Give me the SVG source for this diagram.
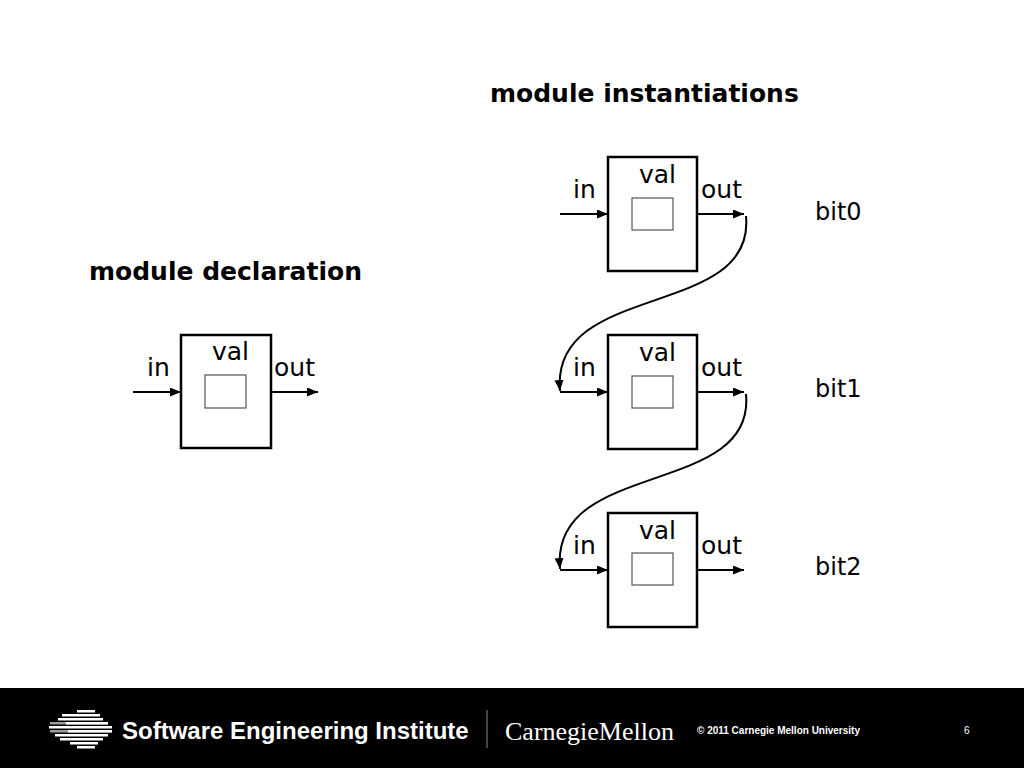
<svg xmlns="http://www.w3.org/2000/svg" width="1024" height="768" viewBox="0 0 1024 768">
<defs>
<marker id="ah" markerUnits="userSpaceOnUse" markerWidth="12" markerHeight="10" refX="11" refY="4.5" orient="auto">
<path d="M0,0 L11,4.5 L0,9 z" fill="#000"/>
</marker>
<style>
.box{fill:#fff;stroke:#000;stroke-width:2.5}
.reg{fill:#fff;stroke:#555;stroke-width:1.2}
.lbl{font-family:"DejaVu Sans",Verdana,sans-serif;font-size:25px;fill:#000}
.ttl{font-family:"DejaVu Sans",Verdana,sans-serif;font-size:25px;font-weight:bold;fill:#000}
.wire{fill:none;stroke:#000;stroke-width:2;marker-end:url(#ah)}
.bar{fill:#fff}
.gbar{fill:#9a9a9a}
</style>
</defs>
<rect width="1024" height="768" fill="#fff"/>

<text class="ttl" x="490" y="102">module instantiations</text>
<text class="ttl" x="89" y="280">module declaration</text>

<g id="decl">
<rect class="box" x="181" y="335" width="90" height="113"/>
<rect class="reg" x="205" y="375" width="41" height="33"/>
<text class="lbl" x="212" y="360">val</text>
<text class="lbl" x="147" y="376">in</text>
<text class="lbl" x="274" y="376">out</text>
</g>

<g id="bit0">
<rect class="box" x="608" y="157" width="89" height="114"/>
<rect class="reg" x="632" y="198" width="41" height="32"/>
<text class="lbl" x="639" y="183">val</text>
<text class="lbl" x="573" y="198">in</text>
<text class="lbl" x="701" y="198">out</text>
<text class="lbl" x="815" y="220" style="font-size:24px">bit0</text>
</g>

<g id="bit1">
<rect class="box" x="608" y="335" width="89" height="114"/>
<rect class="reg" x="632" y="376" width="41" height="32"/>
<text class="lbl" x="639" y="361">val</text>
<text class="lbl" x="573" y="376">in</text>
<text class="lbl" x="701" y="376">out</text>
<text class="lbl" x="815" y="397" style="font-size:24px">bit1</text>
</g>

<g id="bit2">
<rect class="box" x="608" y="513" width="89" height="114"/>
<rect class="reg" x="632" y="553" width="41" height="32"/>
<text class="lbl" x="639" y="539">val</text>
<text class="lbl" x="573" y="554">in</text>
<text class="lbl" x="701" y="554">out</text>
<text class="lbl" x="815" y="575" style="font-size:24px">bit2</text>
</g>

<g id="connectors">
<path class="wire" d="M133,392 H181"/>
<path class="wire" d="M271,392 H318"/>
<path class="wire" d="M560,214 H608"/>
<path class="wire" d="M697,214 H744"/>
<path class="wire" d="M560,392 H608"/>
<path class="wire" d="M697,392 H744"/>
<path class="wire" d="M560,570 H608"/>
<path class="wire" d="M697,570 H744"/>
<path class="wire" d="M746,216 C756,320 550,280 560,391"/>
<path class="wire" d="M746,394 C756,498 550,458 560,569"/>
</g>

<g id="footer">
<rect x="0" y="688" width="1024" height="80" fill="#000"/>
<g id="logo">
<rect class="bar" x="77" y="710" width="18" height="2.5"/>
<rect class="bar" x="62" y="714" width="38" height="2.5"/>
<rect class="bar" x="58" y="718" width="45" height="2.5"/>
<rect class="gbar" x="50" y="722" width="58" height="2.5"/>
<rect class="bar" x="66" y="722" width="42" height="2.5"/>
<rect class="bar" x="49" y="726" width="63" height="2.5"/>
<rect class="gbar" x="50" y="730" width="62" height="2.5"/>
<rect class="bar" x="68" y="730" width="44" height="2.5"/>
<rect class="bar" x="55" y="734" width="53" height="2.5"/>
<rect class="bar" x="60" y="738" width="43" height="2.5"/>
<rect class="bar" x="70" y="742" width="28" height="2.5"/>
<rect class="bar" x="77" y="746" width="18" height="2.5"/>
</g>
<text x="122" y="739" style="font-family:'Liberation Sans',Arial,sans-serif;font-weight:bold;font-size:24px;fill:#fff">Software Engineering Institute</text>
<line x1="487" y1="710" x2="487" y2="748" stroke="#888" stroke-width="1"/>
<text x="505" y="740" style="font-family:'Liberation Serif','Times New Roman',serif;font-size:26px;fill:#fff">CarnegieMellon</text>
<text x="697" y="734" style="font-family:'Liberation Sans',Arial,sans-serif;font-weight:bold;font-size:10px;fill:#fff">© 2011 Carnegie Mellon University</text>
<text x="964" y="734" style="font-family:'Liberation Sans',Arial,sans-serif;font-size:10px;fill:#fff">6</text>
</g>
</svg>
